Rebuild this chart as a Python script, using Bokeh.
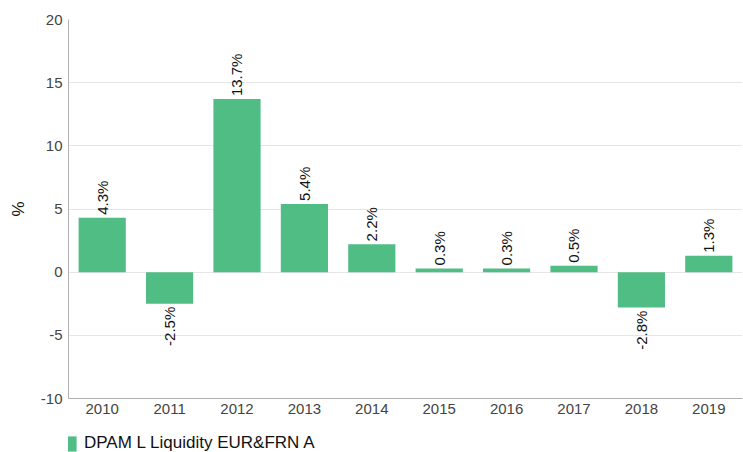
from bokeh.plotting import figure
from bokeh.layouts import column
from bokeh.models import ColumnDataSource, Range1d, FactorRange, LabelSet, Legend, LegendItem, FixedTicker, CustomJSTickFormatter
from bokeh.core.properties import value
from bokeh.embed import file_html
from bokeh.resources import INLINE
import math

years = ["2010", "2011", "2012", "2013", "2014", "2015", "2016", "2017", "2018", "2019"]
returns = [4.3, -2.5, 13.7, 5.4, 2.2, 0.3, 0.3, 0.5, -2.8, 1.3]
series_name = "DPAM L Liquidity EUR&FRN A"
y_ticks = [-10, -5, 0, 5, 10, 15, 20]

GREEN = "#50bd84"
FONT = "Liberation Sans"

labels = [f"{v:.1f}%" for v in returns]
src = ColumnDataSource(dict(x=years, top=returns, lab=labels))
pos = ColumnDataSource(dict(x=[y for y, v in zip(years, returns) if v >= 0],
                            y=[v for v in returns if v >= 0],
                            lab=[l for l, v in zip(labels, returns) if v >= 0]))
neg = ColumnDataSource(dict(x=[y for y, v in zip(years, returns) if v < 0],
                            y=[v for v in returns if v < 0],
                            lab=[l for l, v in zip(labels, returns) if v < 0]))

p = figure(x_range=FactorRange(*years, range_padding=0), y_range=Range1d(-10, 20),
           frame_width=674, frame_height=379, output_backend="svg", toolbar_location=None,
           min_border_left=68, min_border_top=19, min_border_right=1, min_border_bottom=35)
p.outline_line_color = None

r = p.vbar(x="x", top="top", bottom=0, width=0.7, source=src, fill_color=GREEN, line_color=None)

p.add_layout(LabelSet(x="x", y="y", text="lab", source=pos, angle=math.pi / 2,
                      text_align="left", text_baseline="middle", y_offset=3,
                      text_font=value(FONT), text_font_size=value("15px"), text_color="#111111"))
p.add_layout(LabelSet(x="x", y="y", text="lab", source=neg, angle=math.pi / 2,
                      text_align="right", text_baseline="middle", y_offset=-3,
                      text_font=value(FONT), text_font_size=value("15px"), text_color="#111111"))

p.xgrid.grid_line_color = None
p.ygrid.grid_line_color = "#e6e6e6"
p.yaxis.ticker = FixedTicker(ticks=y_ticks)
p.yaxis.formatter = CustomJSTickFormatter(code="return String(tick);")
p.yaxis.axis_label = "%"
p.yaxis.axis_label_text_font = FONT
p.yaxis.axis_label_text_font_size = "17px"
p.yaxis.axis_label_text_font_style = "normal"
p.yaxis.axis_label_text_color = "#111111"
p.yaxis.axis_label_standoff = 10
for ax in (p.xaxis, p.yaxis):
    ax.major_tick_line_color = None
    ax.minor_tick_line_color = None
    ax.axis_line_color = "#b0b0b0"
    ax.major_label_text_font = FONT
    ax.major_label_text_font_size = "15px"
    ax.major_label_text_color = "#444444"
    ax.major_tick_out = 0
    ax.major_tick_in = 0
    ax.minor_tick_out = 0
    ax.minor_tick_in = 0
p.yaxis.major_label_standoff = 6
p.xaxis.major_label_standoff = 5

# legend strip below the chart
p2 = figure(x_range=FactorRange(*years), y_range=Range1d(100, 101),
            width=743, height=19, output_backend="svg", toolbar_location=None,
            x_axis_location=None, y_axis_location=None,
            min_border_left=0, min_border_right=0, min_border_top=0, min_border_bottom=0)
p2.outline_line_color = None
p2.xgrid.grid_line_color = None
p2.ygrid.grid_line_color = None
r2 = p2.vbar(x="x", top="top", bottom=0, width=0.7, source=src, fill_color=GREEN, line_color=None)
legend = Legend(items=[LegendItem(label=series_name, renderers=[r2])],
                location=(-9, -1), orientation="horizontal", border_line_color=None,
                background_fill_alpha=0,
                label_text_font=FONT, label_text_font_size="17px", label_text_color="#111111",
                glyph_width=19, glyph_height=19, padding=0, margin=0, label_standoff=6,
                label_height=19)
p2.add_layout(legend, "center")

layout = column(p, p2, spacing=0)
open("out.html", "w").write(file_html(layout, INLINE))
